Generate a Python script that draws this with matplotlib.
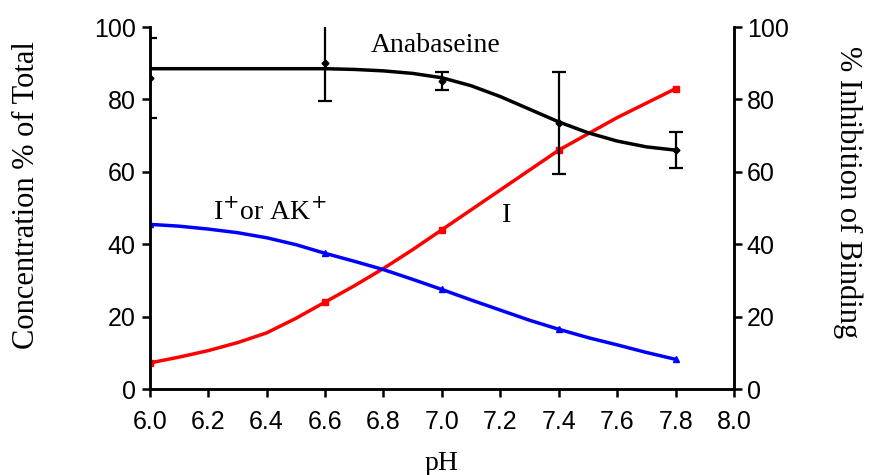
import numpy as np
import matplotlib
matplotlib.use("Agg")
import matplotlib.pyplot as plt

# ------------------------------------------------------------
# Data
# ------------------------------------------------------------

ph_points = [6.0, 6.6, 7.0, 7.4, 7.8]

# % inhibition of binding (anabaseine), mean and error
inhib_mean = [86.0, 90.0, 85.0, 73.5, 66.0]
inhib_err = [11.0, 10.5, 2.5, 14.0, 5.0]

# concentration % of total
neutral_I = [7.2, 24.0, 44.0, 66.0, 83.0]
cation_I = [45.5, 37.5, 27.5, 16.5, 8.2]

# smooth curves traced at 0.1 pH steps
ph_curve = [6.0, 6.1, 6.2, 6.3, 6.4, 6.5, 6.6, 6.7, 6.8, 6.9,
            7.0, 7.1, 7.2, 7.3, 7.4, 7.5, 7.6, 7.7, 7.8]
inhib_curve = [88.5, 88.5, 88.5, 88.5, 88.5, 88.5, 88.5, 88.3, 87.9, 87.2,
               86.0, 83.8, 80.8, 77.3, 73.8, 70.8, 68.5, 66.9, 66.0]
neutral_curve = [7.2, 8.8, 10.6, 12.8, 15.5, 19.5, 24.0, 28.5, 33.3, 38.5,
                 44.0, 49.5, 55.0, 60.5, 66.0, 70.5, 75.0, 79.0, 83.0]
cation_curve = [45.5, 45.0, 44.2, 43.2, 41.8, 39.9, 37.5, 35.3, 33.0, 30.3,
                27.5, 24.6, 21.8, 19.0, 16.5, 14.2, 12.2, 10.1, 8.2]

x_ticks = [6.0, 6.2, 6.4, 6.6, 6.8, 7.0, 7.2, 7.4, 7.6, 7.8, 8.0]
y_ticks = [0, 20, 40, 60, 80, 100]

# ------------------------------------------------------------
# Plot
# ------------------------------------------------------------

SANS = "Liberation Sans"
SERIF = "Liberation Serif"

fig = plt.figure(figsize=(8.75, 4.75), dpi=100)
ax = fig.add_axes([0.171, 0.181, 0.668, 0.762])
ax2 = ax.twinx()

ax.plot(ph_curve, neutral_curve, color="red", lw=2.5, zorder=3)
ax.plot(ph_points, neutral_I, "s", color="red", ms=4, zorder=3)
ax.plot(ph_curve, cation_curve, color="blue", lw=2.5, zorder=3)
ax.plot(ph_points, cation_I, "^", color="blue", ms=5, zorder=3)

ax2.plot(ph_curve, inhib_curve, color="black", lw=2.5, zorder=3)
ax2.errorbar(ph_points, inhib_mean, yerr=inhib_err, fmt="D", color="black",
             ms=3.5, elinewidth=1.6, capsize=5, capthick=1.6, zorder=4)

for a in (ax, ax2):
    a.set_xlim(6.0, 8.0)
    a.set_ylim(0, 100)
    a.set_yticks(y_ticks)
    a.spines["top"].set_visible(False)
    for s in a.spines.values():
        s.set_linewidth(1.8)
    a.tick_params(width=1.8, length=6, labelsize=18, direction="out")

ax.set_xticks(x_ticks)
ax.set_xticklabels([f"{v:.1f}" for v in x_ticks], fontfamily=SANS)
ax.set_yticklabels([str(v) for v in y_ticks], fontfamily=SANS)
ax2.set_yticklabels([str(v) for v in y_ticks], fontfamily=SANS)
ax.tick_params(axis="x", pad=9)
ax.tick_params(axis="y", pad=4)
ax2.tick_params(axis="y", pad=3)

ax.set_xlabel("pH", fontfamily=SERIF, fontsize=20, labelpad=12)
ax.set_ylabel("Concentration % of Total", fontfamily=SERIF, fontsize=22,
              va="center")
ax2.set_ylabel("% Inhibition of Binding", fontfamily=SERIF, fontsize=22,
               rotation=-90, va="center")
ax.yaxis.set_label_coords(-0.21, 0.536)
ax2.yaxis.set_label_coords(1.195, 0.545)

ax2.text(6.98, 95, "Anabaseine", fontfamily=SERIF, fontsize=20,
         ha="center", va="center")
ax.text(6.41, 49, r"I$^{+}$or AK$^{+}$", fontfamily=SERIF, fontsize=20,
        ha="center", va="center")
ax.text(7.22, 48, "I", fontfamily=SERIF, fontsize=20,
        ha="center", va="center")

fig.savefig("out.png", dpi=100)
